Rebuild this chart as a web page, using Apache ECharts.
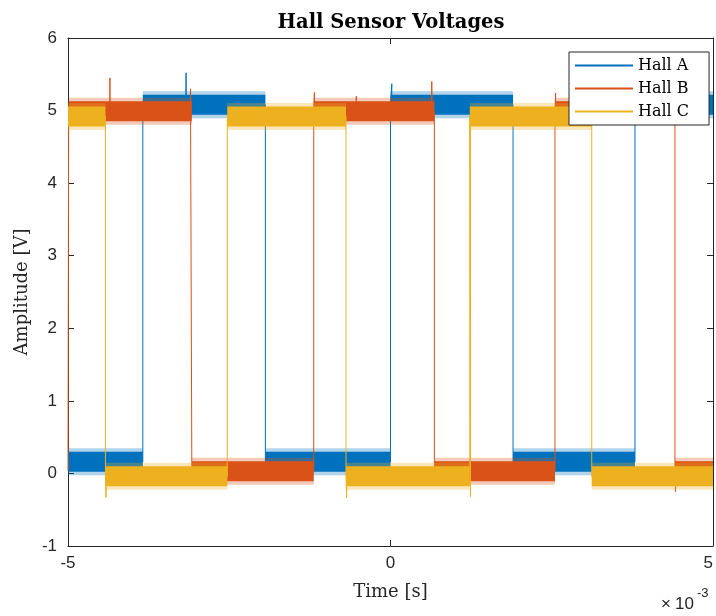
<!DOCTYPE html>
<html>
<head>
<meta charset="utf-8">
<script src="https://cdn.jsdelivr.net/npm/echarts@6/dist/echarts.min.js"></script>
<style>
html,body{margin:0;padding:0;background:#fff;}
#chart{width:716px;height:616px;}
</style>
</head>
<body>
<div id="chart"></div>
<script>
// ---- data (time in units of 1e-3 s) ----
const timeRange = [-5, 5];
const xTicks = [-5, 0, 5];
const yTicks = [-1, 0, 1, 2, 3, 4, 5, 6];
const seriesNames = ['Hall A', 'Hall B', 'Hall C'];

const hallAStartHigh = false;
const hallALevels = [0.16, 5.08];          // [low, high]
const hallATransitions = [-3.84, -1.94, 0.00, 1.90, 3.79];
const hallASpikes = [[-3.17, 5.52], [0.02, 5.37]];

const hallBStartHigh = false;
const hallBLevels = [0.03, 4.99];
const hallBTransitions = [-4.99, -3.08, -1.19, 0.68, 2.55, 4.41];
const hallBSpikes = [[-4.35, 5.45], [-3.10, 5.30], [-1.18, 5.25], [-0.53, 5.20], [0.64, 5.40], [2.56, 5.24], [4.42, -0.25]];

const hallCStartHigh = true;
const hallCLevels = [-0.04, 4.92];
const hallCTransitions = [-4.42, -2.53, -0.69, 1.23, 3.12];
const hallCSpikes = [[-4.41, -0.33], [-0.68, -0.34], [1.24, -0.32]];

const colors = ['#0072BD', '#D95319', '#EDB120'];

// ---- build traces ----
function buildTrace(startHigh, levels, transitions, spikes) {
  const events = transitions.map(t => ({t: t, edge: true}))
    .concat(spikes.map(s => ({t: s[0], edge: false, v: s[1]})))
    .sort((a, b) => a.t - b.t);
  let high = startHigh;
  const pts = [[timeRange[0], levels[high ? 1 : 0]]];
  events.forEach(e => {
    const lv = levels[high ? 1 : 0];
    if (e.edge) {
      pts.push([e.t, lv]);
      high = !high;
      pts.push([e.t, levels[high ? 1 : 0]]);
    } else {
      pts.push([e.t, lv], [e.t, e.v], [e.t, lv]);
    }
  });
  pts.push([timeRange[1], levels[high ? 1 : 0]]);
  return pts;
}
function buildBand(startHigh, levels, transitions) {
  const bounds = [timeRange[0]].concat(transitions, [timeRange[1]]);
  const pts = [];
  let high = startHigh;
  for (let i = 0; i < bounds.length - 1; i++) {
    const lv = levels[high ? 1 : 0];
    pts.push([bounds[i], lv], [bounds[i + 1], lv], [bounds[i + 1], '-']);
    high = !high;
  }
  return pts;
}

const channels = [
  [hallAStartHigh, hallALevels, hallATransitions, hallASpikes],
  [hallBStartHigh, hallBLevels, hallBTransitions, hallBSpikes],
  [hallCStartHigh, hallCLevels, hallCTransitions, hallCSpikes]
];

const series = [];
channels.forEach((c, i) => {
  const band = buildBand(c[0], c[1], c[2]);
  series.push({
    name: seriesNames[i] + ' fuzz',
    type: 'line',
    data: band,
    showSymbol: false,
    connectNulls: false,
    silent: true,
    lineStyle: {color: colors[i], width: 27, cap: 'butt', opacity: 0.3},
    itemStyle: {color: colors[i]},
    animation: false
  });
  series.push({
    name: seriesNames[i] + ' band',
    type: 'line',
    data: band,
    showSymbol: false,
    connectNulls: false,
    silent: true,
    lineStyle: {color: colors[i], width: 20, cap: 'butt'},
    itemStyle: {color: colors[i]},
    animation: false
  });
  series.push({
    name: seriesNames[i],
    type: 'line',
    data: buildTrace(c[0], c[1], c[2], c[3]),
    showSymbol: false,
    lineStyle: {color: colors[i], width: 1},
    itemStyle: {color: colors[i]},
    animation: false
  });
});

const axisColor = '#262626';
const sans = '"Liberation Sans", Arial, Helvetica, sans-serif';
const serif = '"DejaVu Serif", "Liberation Serif", serif';

const chart = echarts.init(document.getElementById('chart'), null, {renderer: 'canvas'});
chart.setOption({
  backgroundColor: '#ffffff',
  animation: false,
  title: {
    text: 'Hall Sensor Voltages',
    left: 386, top: 8, textAlign: 'center',
    textStyle: {fontFamily: serif, fontWeight: 'bold', fontSize: 19.5, color: '#000'}
  },
  legend: {
    data: seriesNames,
    orient: 'vertical',
    left: 569, top: 52,
    padding: [5, 20, 5, 6],
    itemWidth: 58, itemHeight: 2, itemGap: 6,
    icon: 'rect',
    backgroundColor: '#fff',
    borderColor: axisColor, borderWidth: 1, borderRadius: 0,
    textStyle: {fontFamily: serif, fontSize: 16, color: '#000', lineHeight: 17}
  },
  grid: {left: 68, right: 3, top: 38, bottom: 70, containLabel: false},
  xAxis: [{
    type: 'value', min: timeRange[0], max: timeRange[1], interval: 5,
    name: 'Time [s]', nameLocation: 'middle', nameGap: 37,
    nameTextStyle: {fontFamily: serif, fontSize: 18, color: axisColor},
    axisLine: {show: true, onZero: false, lineStyle: {color: axisColor, width: 1}},
    axisTick: {show: true, inside: true, length: 6, lineStyle: {color: axisColor}},
    axisLabel: {fontFamily: sans, fontSize: 17, color: axisColor, margin: 9, alignMaxLabel: 'right',
      formatter: v => String(v)},
    splitLine: {show: false}
  }, {
    type: 'value', min: timeRange[0], max: timeRange[1], interval: 5, position: 'top',
    axisLine: {show: true, onZero: false, lineStyle: {color: axisColor, width: 1}},
    axisTick: {show: true, inside: true, length: 6, lineStyle: {color: axisColor}},
    axisLabel: {show: false}, splitLine: {show: false}
  }],
  yAxis: [{
    type: 'value', min: -1, max: 6, interval: 1,
    name: 'Amplitude [V]', nameLocation: 'middle', nameGap: 35, nameRotate: 90,
    nameTextStyle: {fontFamily: serif, fontSize: 18, color: axisColor},
    axisLine: {show: true, onZero: false, lineStyle: {color: axisColor, width: 1}},
    axisTick: {show: true, inside: true, length: 6, lineStyle: {color: axisColor}},
    axisLabel: {fontFamily: sans, fontSize: 17, color: axisColor, margin: 11,
      formatter: v => String(v)},
    splitLine: {show: false}
  }, {
    type: 'value', min: -1, max: 6, interval: 1, position: 'right',
    axisLine: {show: true, onZero: false, lineStyle: {color: axisColor, width: 1}},
    axisTick: {show: true, inside: true, length: 6, lineStyle: {color: axisColor}},
    axisLabel: {show: false}, splitLine: {show: false}
  }],
  graphic: [
    {type: 'text', left: 661, top: 596,
     style: {text: '×', font: '17px ' + sans, fill: axisColor}},
    {type: 'text', left: 675, top: 596,
     style: {text: '10', font: '17px ' + sans, fill: axisColor}},
    {type: 'text', left: 697, top: 587,
     style: {text: '-3', font: '13px ' + sans, fill: axisColor}}
  ],
  series: series
});
</script>
</body>
</html>
